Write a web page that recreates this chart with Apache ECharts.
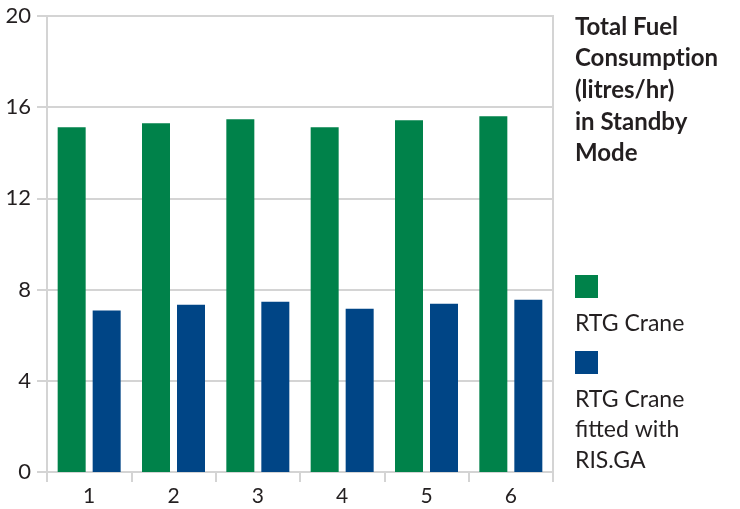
<!DOCTYPE html>
<html><head><meta charset="utf-8">
<script src="https://cdn.jsdelivr.net/npm/echarts@6/dist/echarts.min.js"></script>
<style>html,body{margin:0;padding:0;background:#fff}#c{width:740px;height:509px}</style>
</head><body><div id="c"></div>
<script>
const categories = ['1','2','3','4','5','6'];
const rtgCrane = [15.12, 15.30, 15.47, 15.12, 15.43, 15.60];
const rtgRisga = [7.08, 7.34, 7.47, 7.16, 7.38, 7.56];
const seriesNames = ['RTG Crane', 'RTG Crane fitted with RIS.GA'];
const yTicks = [0, 4, 8, 12, 16, 20];
const titleLines = ['Total Fuel', 'Consump{s|t}ion', '(litres/hr)', 'in Standby', 'Mode'];
const legendLabels = ['RTG Crane', 'RTG Crane\nfitted with\nRIS.GA'];

const FONT = 'Lato';
const tStyle = {fontFamily: FONT, fontWeight: 'bold', fontSize: 24, lineHeight: 31.7, color: '#231f20'};
const chart = echarts.init(document.getElementById('c'), null, {renderer: 'canvas'});
chart.setOption({
  animation: false,
  backgroundColor: '#fff',
  title: {
    text: titleLines.join('\n'), left: 575, top: 11, padding: 0,
    textStyle: Object.assign({}, tStyle, {rich: {s: Object.assign({}, tStyle)}})
  },
  legend: {
    orient: 'vertical', left: 575, top: 275, padding: 0, itemWidth: 23, itemHeight: 23, itemGap: 53,
    icon: 'rect', formatter: function(){ return ''; },
    data: seriesNames
  },
  graphic: [
    {type: 'text', left: 575, top: 312, style: {text: legendLabels[0], fontFamily: FONT, fontSize: 23, fill: '#231f20'}},
    {type: 'text', left: 575, top: 384, style: {text: legendLabels[1], fontFamily: FONT, fontSize: 23, lineHeight: 30.5, fill: '#231f20'}}
  ],
  grid: {left: 47, right: 187, top: 16, bottom: 37, show: true, borderColor: '#d4d4d4', borderWidth: 2},
  xAxis: {
    type: 'category', data: categories,
    axisLine: {lineStyle: {color: '#d4d4d4', width: 2}},
    axisTick: {show: true, length: 10, lineStyle: {color: '#d4d4d4', width: 2}},
    axisLabel: {fontFamily: FONT, fontSize: 21, color: '#231f20', margin: 14}
  },
  yAxis: {
    type: 'value', min: yTicks[0], max: yTicks[yTicks.length-1], interval: 4,
    axisLine: {show: true, lineStyle: {color: '#d4d4d4', width: 2}},
    axisTick: {show: true, length: 10, lineStyle: {color: '#d4d4d4', width: 2}},
    splitLine: {lineStyle: {color: '#d4d4d4', width: 2}},
    axisLabel: {fontFamily: FONT, fontSize: 22, color: '#231f20', margin: 16}
  },
  series: [
    {name: seriesNames[0], type: 'bar', data: rtgCrane, barWidth: 28, barGap: '25%', itemStyle: {color: '#00824a'}},
    {name: seriesNames[1], type: 'bar', data: rtgRisga, barWidth: 28, itemStyle: {color: '#004586'}}
  ]
});
</script></body></html>
